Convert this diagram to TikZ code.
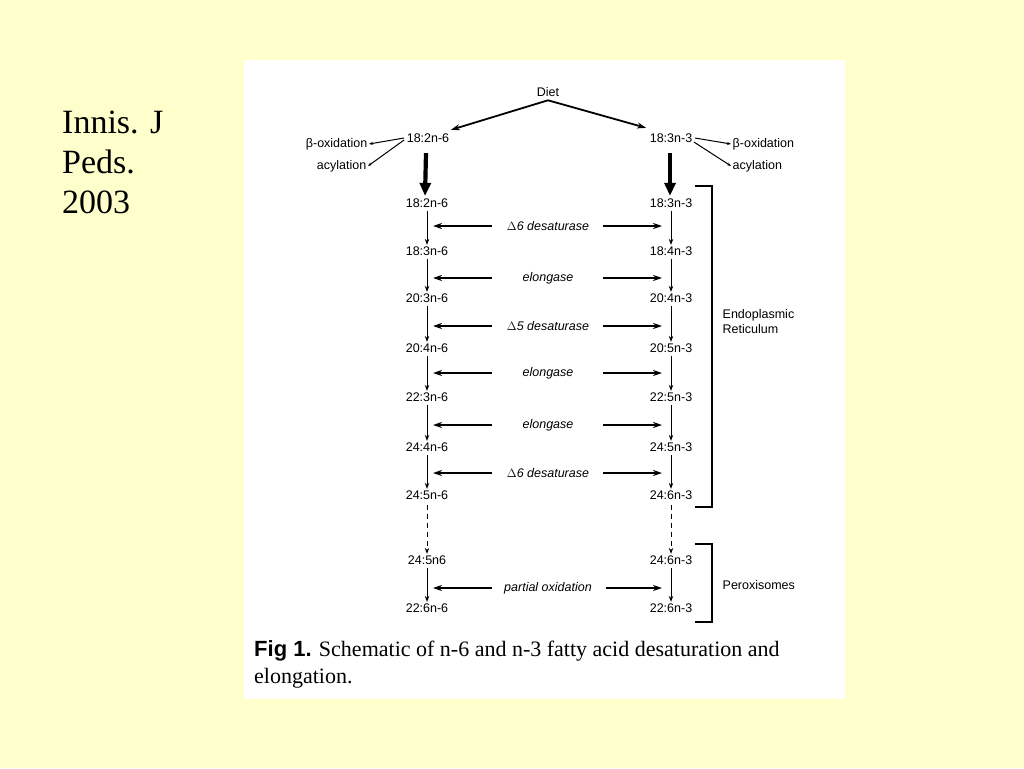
\documentclass[tikz,border=0pt]{standalone}
\usepackage{fontspec}
\setmainfont{Liberation Serif}
\newfontfamily\arialf{Liberation Sans}
\usetikzlibrary{arrows.meta,calc}
\definecolor{slidebg}{HTML}{FFFFCC}
\begin{document}
\begin{tikzpicture}[x=1pt,y=-1pt,
  lab/.style={font=\arialf\fontsize{12.5}{15}\selectfont, inner sep=1.5pt},
  enz/.style={font=\arialf\itshape\fontsize{12.5}{15}\selectfont, inner sep=1pt},
  varr/.style={-{Stealth[length=6pt,width=4.5pt]}, line width=1pt, shorten <=1.5pt},
  harr/.style={-{Stealth[length=9pt,width=6pt]}, line width=1.9pt},
  darr/.style={-{Stealth[length=9pt,width=6pt]}, line width=1.8pt},
  sarr/.style={-{Stealth[length=4pt,width=3pt]}, line width=1pt},
  bigarr/.style={-{Triangle[length=13pt,width=11pt]}, line width=4.2pt},
  brack/.style={line width=1.8pt},
  slide/.style={font=\fontsize{34}{40}\selectfont, inner sep=0pt, anchor=base west},
  capt/.style={font=\fontsize{22}{27}\selectfont, inner sep=0pt, anchor=base west}]
\useasboundingbox (0,0) rectangle (1024,768);
\fill[slidebg] (0,0) rectangle (1024,768);
\fill[white] (244,60) rectangle (845,699);

% slide text
\node[slide] (t1) at (62,133) {Innis. J};
\node[slide] (t2) at (62,173) {Peds.};
\node[slide] (t3) at (62,213) {2003};

% top
\node[lab] (diet) at (548,92) {Diet};
\node[lab] (l0) at (428,138) {18:2n-6};
\node[lab] (r0) at (671,138) {18:3n-3};
\node[lab, anchor=east] (lb) at (369,144) {β-oxidation};
\node[lab, anchor=east] (la) at (368,166) {acylation};
\node[lab, anchor=west] (rb) at (731,144) {β-oxidation};
\node[lab, anchor=west] (ra) at (731,166) {acylation};

\draw[darr] ($(diet.south)+(0,2)$) -- ($(l0.north east)+(0,-2)$);
\draw[darr] ($(diet.south)+(0,2)$) -- ($(r0.north west)+(-2,-4)$);
\draw[sarr] ($(l0.west)+(-1,0)$) -- (lb.east);
\draw[sarr] ($(l0.west)+(-1,2)$) -- (la.east);
\draw[sarr] ($(r0.east)+(1,0)$) -- (rb.west);
\draw[sarr] ($(r0.east)+(0,4)$) -- (ra.west);

% columns
\foreach \i/\y/\lt/\rt in {1/203/18:2n-6/18:3n-3, 2/251/18:3n-6/18:4n-3,
  3/298/20:3n-6/20:4n-3, 4/348/20:4n-6/20:5n-3, 5/397/22:3n-6/22:5n-3,
  6/447/24:4n-6/24:5n-3, 7/495/24:5n-6/24:6n-3, 8/560/24:5n6/24:6n-3,
  9/608/22:6n-6/22:6n-3}{
  \node[lab] (L\i) at (427,\y) {\lt};
  \node[lab] (R\i) at (671,\y) {\rt};
}

\draw[bigarr] ($(l0.south)+(-2,9)$) -- ($(L1.north)+(-2,-1)$);
\draw[bigarr] ($(r0.south)+(-1,9)$) -- ($(R1.north)+(-1,-1)$);

\foreach \a/\b in {1/2,2/3,3/4,4/5,5/6,6/7,8/9}{
  \draw[varr] (L\a.south) -- (L\b.north);
  \draw[varr] (R\a.south) -- (R\b.north);
}
\draw[varr, dash pattern=on 5pt off 4pt] ($(L7.south)+(0,2)$) -- (L8.north);
\draw[varr, dash pattern=on 5pt off 4pt] ($(R7.south)+(0,2)$) -- (R8.north);

% enzymes
\foreach \i/\y/\t in {1/226/$\Delta$6 desaturase, 2/278/elongase, 3/326/$\Delta$5 desaturase,
  4/373/elongase, 5/425/elongase, 6/473/$\Delta$6 desaturase, 7/588/partial oxidation}{
  \node[enz] (E\i) at (548,\y) {\t};
}
\foreach \i in {1,...,6}{
  \draw[harr] ($(E\i.center)+(-56,0)$) -- ($(E\i -| L1)+(6,0)$);
  \draw[harr] ($(E\i.center)+(55,0)$) -- ($(E\i -| R1)+(-9,0)$);
}
\draw[harr] ($(E7.center)+(-56,0)$) -- ($(E7 -| L1)+(6,0)$);
\draw[harr] ($(E7.center)+(58,0)$) -- ($(E7 -| R1)+(-9,0)$);

% brackets
\draw[brack] ($(R1)+(24,-17)$) -| ($(R7)+(41,12)$) -- ($(R7)+(24,12)$);
\draw[brack] ($(R8)+(24,-16)$) -| ($(R9)+(41,14)$) -- ($(R9)+(24,14)$);
\node[lab, anchor=west, align=left] (er) at (721,322) {Endoplasmic\\Reticulum};
\node[lab, anchor=west] (px) at (721,585) {Peroxisomes};

% caption
\node[capt] (c1) at (254,656) {{\arialf\bfseries Fig 1.} Schematic of n-6 and n-3 fatty acid desaturation and};
\node[capt] (c2) at (254,683) {elongation.};
\end{tikzpicture}
\end{document}
